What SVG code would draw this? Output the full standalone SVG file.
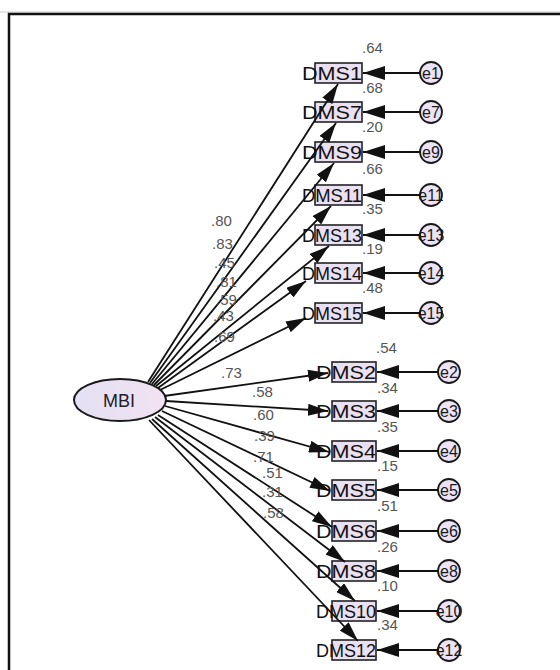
<svg xmlns="http://www.w3.org/2000/svg" width="560" height="670" viewBox="0 0 560 670">
  <defs>
    <style>
      .frame { fill: #ffffff; stroke: #111111; stroke-width: 2.5; }
      .obs rect { fill: #e9e1f2; stroke: #222222; stroke-width: 1.6; }
      .obs text { font-family: "Liberation Sans", Arial, sans-serif; font-size: 19px; fill: #111111; }
      .err circle { fill: #ece4f4; stroke: #1a1a1a; stroke-width: 1.8; }
      .err text { font-family: "Liberation Sans", Arial, sans-serif; font-size: 16px; fill: #1a1a1a; text-anchor: middle; }
      .lat ellipse { fill: url(#latFill); stroke: #1a1a1a; stroke-width: 2; }
      .lat text { font-family: "Liberation Sans", Arial, sans-serif; font-size: 18px; fill: #222222; text-anchor: middle; }
      .coef { font-family: "Liberation Sans", Arial, sans-serif; font-size: 15px; fill: #555555; }
      .path { stroke: #111111; stroke-width: 1.8; fill: none; marker-end: url(#head); }
      .epath { stroke: #111111; stroke-width: 1.8; fill: none; marker-end: url(#ehead); }
    </style>
    <linearGradient id="latFill" x1="0" y1="0" x2="1" y2="0">
      <stop offset="0" stop-color="#e4e0f4"/>
      <stop offset="1" stop-color="#f1e2f2"/>
    </linearGradient>
    <marker id="head" markerUnits="userSpaceOnUse" markerWidth="20" markerHeight="12" refX="20" refY="6" orient="auto">
      <path d="M0,0 L20,6 L0,12 z" fill="#111111"/>
    </marker>
    <marker id="ehead" markerUnits="userSpaceOnUse" markerWidth="22" markerHeight="14" refX="22" refY="7" orient="auto">
      <path d="M0,0 L22,7 L0,14 z" fill="#111111"/>
    </marker>
  </defs>

  <!-- outer frame -->
  <line x1="0" y1="12" x2="560" y2="12" stroke="#cccccc" stroke-width="1"/>
  <rect class="frame" x="9" y="14" width="600" height="700"/>

  <!-- latent factor -->
  <g id="MBI" class="lat">
    <ellipse cx="120" cy="400" rx="46" ry="21"/>
    <text x="119" y="407">MBI</text>
  </g>

  <!-- observed indicators, upper block -->
  <g id="DMS1" class="obs"><rect x="315" y="63" width="47" height="20"/><text x="302" y="80" textLength="60" lengthAdjust="spacingAndGlyphs">DMS1</text></g>
  <g id="DMS7" class="obs"><rect x="315" y="102" width="47" height="20"/><text x="302" y="119" textLength="60" lengthAdjust="spacingAndGlyphs">DMS7</text></g>
  <g id="DMS9" class="obs"><rect x="315" y="142" width="47" height="20"/><text x="302" y="159" textLength="60" lengthAdjust="spacingAndGlyphs">DMS9</text></g>
  <g id="DMS11" class="obs"><rect x="315" y="185" width="47" height="20"/><text x="302" y="202" textLength="60" lengthAdjust="spacingAndGlyphs">DMS11</text></g>
  <g id="DMS13" class="obs"><rect x="315" y="225" width="47" height="20"/><text x="302" y="242" textLength="60" lengthAdjust="spacingAndGlyphs">DMS13</text></g>
  <g id="DMS14" class="obs"><rect x="315" y="263" width="47" height="20"/><text x="302" y="280" textLength="60" lengthAdjust="spacingAndGlyphs">DMS14</text></g>
  <g id="DMS15" class="obs"><rect x="315" y="303" width="47" height="20"/><text x="302" y="320" textLength="60" lengthAdjust="spacingAndGlyphs">DMS15</text></g>

  <!-- observed indicators, lower block -->
  <g id="DMS2" class="obs"><rect x="332" y="362" width="44" height="20"/><text x="316" y="379" textLength="60" lengthAdjust="spacingAndGlyphs">DMS2</text></g>
  <g id="DMS3" class="obs"><rect x="332" y="401" width="44" height="20"/><text x="316" y="418" textLength="60" lengthAdjust="spacingAndGlyphs">DMS3</text></g>
  <g id="DMS4" class="obs"><rect x="332" y="441" width="44" height="20"/><text x="316" y="458" textLength="60" lengthAdjust="spacingAndGlyphs">DMS4</text></g>
  <g id="DMS5" class="obs"><rect x="332" y="480" width="44" height="20"/><text x="316" y="497" textLength="60" lengthAdjust="spacingAndGlyphs">DMS5</text></g>
  <g id="DMS6" class="obs"><rect x="332" y="521" width="44" height="20"/><text x="316" y="538" textLength="60" lengthAdjust="spacingAndGlyphs">DMS6</text></g>
  <g id="DMS8" class="obs"><rect x="332" y="561" width="44" height="20"/><text x="316" y="578" textLength="60" lengthAdjust="spacingAndGlyphs">DMS8</text></g>
  <g id="DMS10" class="obs"><rect x="332" y="601" width="44" height="20"/><text x="316" y="618" textLength="60" lengthAdjust="spacingAndGlyphs">DMS10</text></g>
  <g id="DMS12" class="obs"><rect x="332" y="640" width="44" height="20"/><text x="316" y="657" textLength="60" lengthAdjust="spacingAndGlyphs">DMS12</text></g>

  <!-- error terms -->
  <g id="e1" class="err"><circle cx="431" cy="73" r="11"/><text x="431" y="79">e1</text></g>
  <g id="e7" class="err"><circle cx="431" cy="112" r="11"/><text x="431" y="118">e7</text></g>
  <g id="e9" class="err"><circle cx="431" cy="152" r="11"/><text x="431" y="158">e9</text></g>
  <g id="e11" class="err"><circle cx="431" cy="195" r="11"/><text x="431" y="201">e11</text></g>
  <g id="e13" class="err"><circle cx="431" cy="235" r="11"/><text x="431" y="241">e13</text></g>
  <g id="e14" class="err"><circle cx="431" cy="273" r="11"/><text x="431" y="279">e14</text></g>
  <g id="e15" class="err"><circle cx="431" cy="313" r="11"/><text x="431" y="319">e15</text></g>
  <g id="e2" class="err"><circle cx="449" cy="372" r="11"/><text x="449" y="378">e2</text></g>
  <g id="e3" class="err"><circle cx="449" cy="411" r="11"/><text x="449" y="417">e3</text></g>
  <g id="e4" class="err"><circle cx="449" cy="451" r="11"/><text x="449" y="457">e4</text></g>
  <g id="e5" class="err"><circle cx="449" cy="490" r="11"/><text x="449" y="496">e5</text></g>
  <g id="e6" class="err"><circle cx="449" cy="531" r="11"/><text x="449" y="537">e6</text></g>
  <g id="e8" class="err"><circle cx="449" cy="571" r="11"/><text x="449" y="577">e8</text></g>
  <g id="e10" class="err"><circle cx="449" cy="611" r="11"/><text x="449" y="617">e10</text></g>
  <g id="e12" class="err"><circle cx="449" cy="650" r="11"/><text x="449" y="656">e12</text></g>

  <!-- paths: factor loadings and error terms -->
  <g id="connectors">
    <line class="path" x1="148" y1="382" x2="338" y2="84"/>
    <line class="path" x1="150" y1="383" x2="336" y2="123"/>
    <line class="path" x1="152" y1="384" x2="334" y2="163"/>
    <line class="path" x1="154" y1="385" x2="331" y2="206"/>
    <line class="path" x1="156" y1="386" x2="329" y2="246"/>
    <line class="path" x1="158" y1="388" x2="306" y2="281"/>
    <line class="path" x1="160" y1="390" x2="306" y2="318"/>

    <line class="path" x1="164" y1="396" x2="328" y2="373"/>
    <line class="path" x1="166" y1="401" x2="328" y2="411"/>
    <line class="path" x1="165" y1="406" x2="329" y2="452"/>
    <line class="path" x1="162" y1="411" x2="330" y2="491"/>
    <line class="path" x1="158" y1="415" x2="332" y2="527"/>
    <line class="path" x1="155" y1="417" x2="345" y2="562"/>
    <line class="path" x1="152" y1="419" x2="355" y2="601"/>
    <line class="path" x1="149" y1="420" x2="358" y2="641"/>

    <line class="epath" x1="420" y1="73" x2="363" y2="73"/>
    <line class="epath" x1="420" y1="112" x2="363" y2="112"/>
    <line class="epath" x1="420" y1="152" x2="363" y2="152"/>
    <line class="epath" x1="420" y1="195" x2="363" y2="195"/>
    <line class="epath" x1="420" y1="235" x2="363" y2="235"/>
    <line class="epath" x1="420" y1="273" x2="363" y2="273"/>
    <line class="epath" x1="420" y1="313" x2="363" y2="313"/>

    <line class="epath" x1="438" y1="372" x2="377" y2="372"/>
    <line class="epath" x1="438" y1="411" x2="377" y2="411"/>
    <line class="epath" x1="438" y1="451" x2="377" y2="451"/>
    <line class="epath" x1="438" y1="490" x2="377" y2="490"/>
    <line class="epath" x1="438" y1="531" x2="377" y2="531"/>
    <line class="epath" x1="438" y1="571" x2="377" y2="571"/>
    <line class="epath" x1="438" y1="611" x2="377" y2="611"/>
    <line class="epath" x1="438" y1="650" x2="377" y2="650"/>
  </g>

  <!-- standardized loadings -->
  <g id="loadings" class="coef">
    <text x="211" y="226">.80</text>
    <text x="212" y="249">.83</text>
    <text x="214" y="268">.45</text>
    <text x="216" y="287">.81</text>
    <text x="216" y="305">.59</text>
    <text x="213" y="321">.43</text>
    <text x="214" y="342">.69</text>
    <text x="221" y="378">.73</text>
    <text x="252" y="397">.58</text>
    <text x="253" y="420">.60</text>
    <text x="254" y="441">.39</text>
    <text x="253" y="462">.71</text>
    <text x="262" y="478">.51</text>
    <text x="262" y="497">.31</text>
    <text x="263" y="518">.58</text>
  </g>

  <!-- squared multiple correlations -->
  <g id="r2" class="coef">
    <text x="362" y="53">.64</text>
    <text x="362" y="93">.68</text>
    <text x="362" y="132">.20</text>
    <text x="362" y="174">.66</text>
    <text x="362" y="214">.35</text>
    <text x="362" y="254">.19</text>
    <text x="362" y="293">.48</text>
    <text x="376" y="353">.54</text>
    <text x="377" y="393">.34</text>
    <text x="377" y="432">.35</text>
    <text x="377" y="471">.15</text>
    <text x="377" y="511">.51</text>
    <text x="377" y="552">.26</text>
    <text x="377" y="591">.10</text>
    <text x="377" y="630">.34</text>
  </g>
</svg>
